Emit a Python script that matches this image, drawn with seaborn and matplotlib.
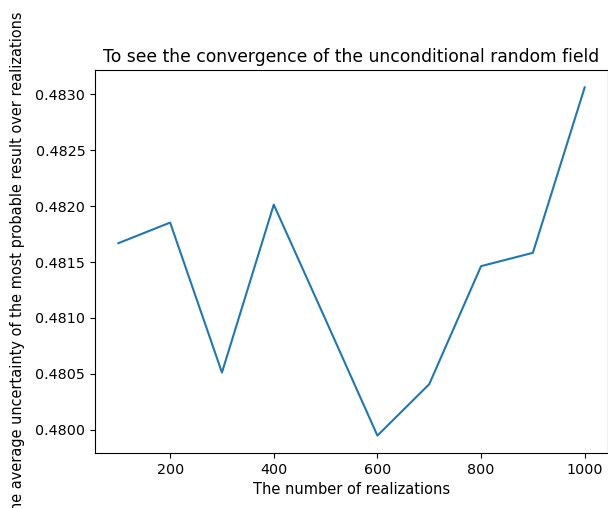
import matplotlib
matplotlib.use("Agg")
import matplotlib.pyplot as plt
import seaborn as sns
import pandas as pd

realizations = [100, 200, 300, 400, 500, 600, 700, 800, 900, 1000]
uncertainty = [0.481668, 0.481852, 0.480513, 0.482012, 0.480985,
               0.479950, 0.480409, 0.481463, 0.481582, 0.483059]

df = pd.DataFrame({"n": realizations, "u": uncertainty})

fig = plt.figure(figsize=(6.08, 5.08), dpi=100)
ax = fig.add_axes([95/608, 1-453/508, 513/608, 383/508])
sns.lineplot(data=df, x="n", y="u", ax=ax, color="#1f77b4", linewidth=1.5)
ax.set_title("To see the convergence of the unconditional random field", fontsize=12.3)
ax.set_xlabel("The number of realizations", fontsize=10.5)
ax.set_ylabel("The average uncertainty of the most probable result over realizations", fontsize=10.45)
ax.yaxis.set_label_coords(-0.136, 0.49)
ax.set_xticks([200, 400, 600, 800, 1000])
ax.set_yticks([0.4800, 0.4805, 0.4810, 0.4815, 0.4820, 0.4825, 0.4830])
ax.set_yticklabels(["0.4800", "0.4805", "0.4810", "0.4815", "0.4820", "0.4825", "0.4830"])
ax.tick_params(labelsize=10.3)
fig.savefig("out.png", dpi=100)
